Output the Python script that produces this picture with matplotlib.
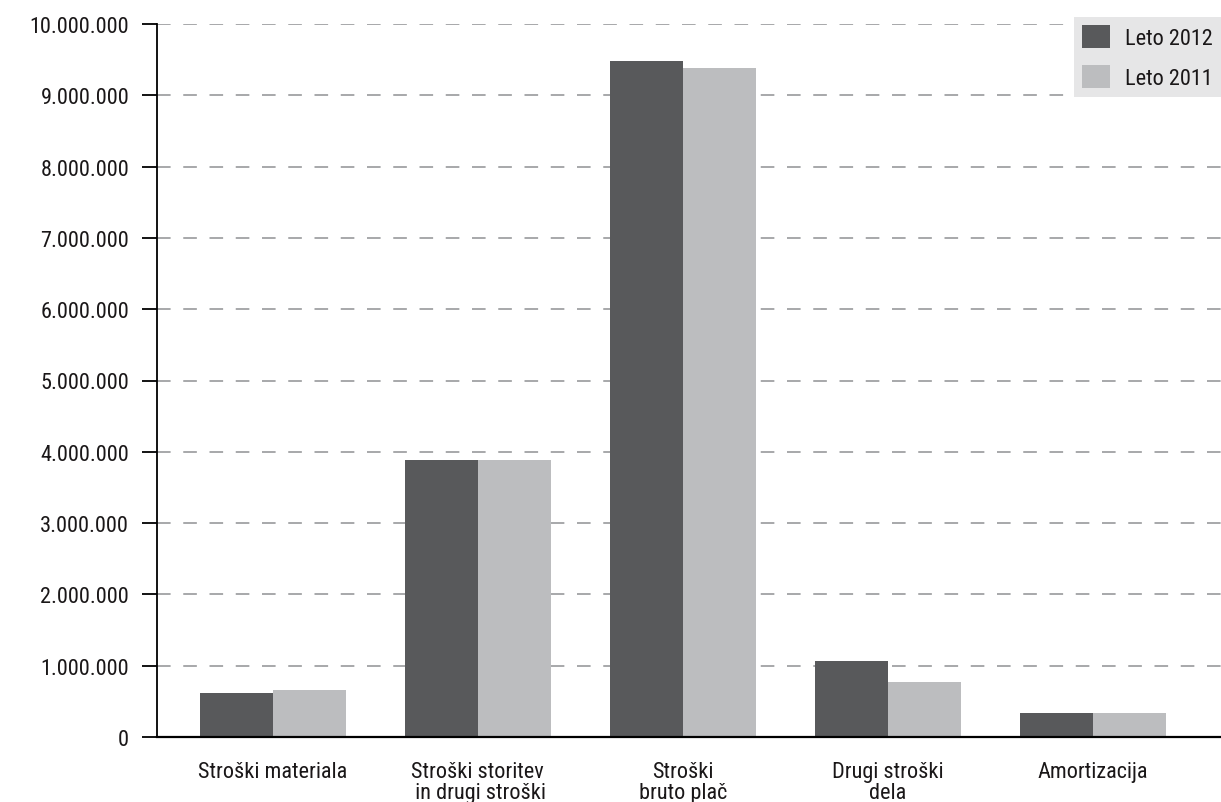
import matplotlib
matplotlib.use("Agg")
import matplotlib.pyplot as plt
import numpy as np
from matplotlib.ticker import FuncFormatter

categories = ["Stroški materiala", "Stroški storitev\n in drugi stroški", "Stroški\nbruto plač",
              "Drugi stroški\ndela", "Amortizacija"]
leto_2012 = [615000, 3885000, 9480000, 1065000, 335000]
leto_2011 = [665000, 3880000, 9380000, 765000, 335000]
yticks = [0, 1000000, 2000000, 3000000, 4000000, 5000000, 6000000, 7000000, 8000000, 9000000, 10000000]

plt.rcParams['font.family'] = ['Roboto Condensed', 'Liberation Sans Narrow', 'Roboto', 'DejaVu Sans']
dark = '#58595b'
light = '#bcbdbf'
txt = '#1a1718'
fs = 16

fig = plt.figure(figsize=(12.21, 8.03), dpi=100)
ax = fig.add_axes([157/1221, 1-738/803, 1-157/1221, (738-25)/803])

x = np.arange(len(categories))
w = 0.355
ax.bar(x - w/2, leto_2012, w, color=dark, label='Leto 2012', zorder=3)
ax.bar(x + w/2, leto_2011, w, color=light, label='Leto 2011', zorder=3)

ax.set_xlim(-0.565, 4.625)
ax.set_ylim(0, 10000000)
ax.set_yticks(yticks)
ax.yaxis.set_major_formatter(FuncFormatter(lambda v, p: f"{int(v):,}".replace(",", ".")))
for v in yticks[1:]:
    ax.axhline(v, color='#a7a8aa', lw=1.4, dashes=(7, 6.5), zorder=1)

ax.set_xticks(x)
ax.set_xticklabels(categories, fontsize=fs, color=txt, linespacing=1.02)
ax.tick_params(axis='x', length=0, pad=17)
ax.tick_params(axis='y', length=11, width=1.3, color='black', labelsize=fs, labelcolor=txt, pad=9)

for s in ['top', 'right']:
    ax.spines[s].set_visible(False)
ax.spines['left'].set_linewidth(1.3)
ax.spines['bottom'].set_linewidth(1.6)
ax.spines['left'].set_zorder(4)
ax.spines['bottom'].set_zorder(4)

leg = ax.legend(loc='upper right', bbox_to_anchor=(1.0, (738-18)/713),
                frameon=True, facecolor='#e6e6e7', edgecolor='none', fancybox=False,
                fontsize=fs, handlelength=1.25, handleheight=1.25, labelspacing=0.7,
                handletextpad=0.7, borderpad=0.35, borderaxespad=0, framealpha=1)
for t in leg.get_texts():
    t.set_color(txt)
leg.set_zorder(5)

fig.savefig("out.png", dpi=100)
